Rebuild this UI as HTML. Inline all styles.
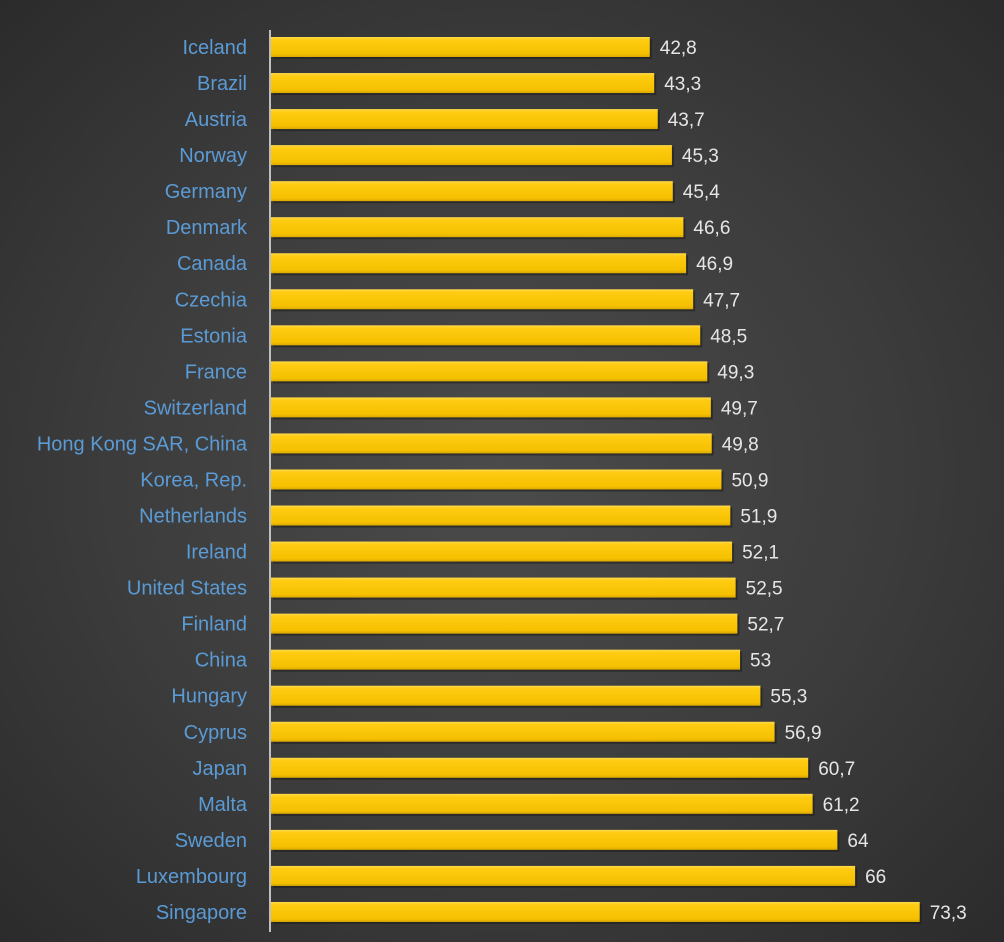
<!DOCTYPE html>
<html><head><meta charset="utf-8"><style>
html,body{margin:0;padding:0;}
body{width:1004px;height:942px;overflow:hidden;background:radial-gradient(ellipse at 50% 50%,#4b4b4b 0%,#3c3c3c 55%,#2b2b2b 100%);}
svg{display:block;font-family:"Liberation Sans",sans-serif;}
</style></head><body>
<svg id="chart" width="1004" height="942" viewBox="0 0 1004 942">
<defs>
<linearGradient id="bg" x1="0" y1="0" x2="0" y2="1">
<stop offset="0" stop-color="#ffd94a"/><stop offset="0.15" stop-color="#ffcc12"/><stop offset="0.85" stop-color="#f5c000"/><stop offset="1" stop-color="#d9a800"/>
</linearGradient>
</defs>
<g id="bars"></g>
<line x1="270" y1="30" x2="270" y2="932" stroke="#bfbfbf" stroke-width="2"/>
</svg>
<script>
const categories=["Iceland","Brazil","Austria","Norway","Germany","Denmark","Canada","Czechia","Estonia","France","Switzerland","Hong Kong SAR, China","Korea, Rep.","Netherlands","Ireland","United States","Finland","China","Hungary","Cyprus","Japan","Malta","Sweden","Luxembourg","Singapore"];
const values=[42.8,43.3,43.7,45.3,45.4,46.6,46.9,47.7,48.5,49.3,49.7,49.8,50.9,51.9,52.1,52.5,52.7,53,55.3,56.9,60.7,61.2,64,66,73.3];
const labels=["42,8","43,3","43,7","45,3","45,4","46,6","46,9","47,7","48,5","49,3","49,7","49,8","50,9","51,9","52,1","52,5","52,7","53","55,3","56,9","60,7","61,2","64","66","73,3"];
const NS="http://www.w3.org/2000/svg";
const x0=271, pxPerUnit=8.85;
function xScale(v){return x0+v*pxPerUnit;}
function yCenter(i){return 47+i*36.04;}
const g=document.getElementById('bars');
categories.forEach((c,i)=>{
  const yc=yCenter(i);
  const sh=document.createElementNS(NS,'rect');
  
  
  sh.setAttribute('x',x0+2);sh.setAttribute('y',yc-8);
  sh.setAttribute('width',xScale(values[i])-x0);sh.setAttribute('height',20);
  sh.setAttribute('fill','#1e1e1e');sh.setAttribute('opacity','0.6');
  g.appendChild(sh);
  const r=document.createElementNS(NS,'rect');
  
  
  r.setAttribute('x',x0);r.setAttribute('y',yc-10);
  r.setAttribute('width',xScale(values[i])-x0);r.setAttribute('height',20);
  r.setAttribute('fill','url(#bg)');
  g.appendChild(r);
  const t=document.createElementNS(NS,'text');
  
  
  t.setAttribute('x',247);t.setAttribute('y',yc+7);
  t.setAttribute('text-anchor','end');t.setAttribute('font-size','20');t.setAttribute('fill','#5b9bd5');
  t.textContent=c;g.appendChild(t);
  const v=document.createElementNS(NS,'text');
  
  
  v.setAttribute('x',xScale(values[i])+10);v.setAttribute('y',yc+7);
  v.setAttribute('font-size','19');v.setAttribute('fill','#e6e6e6');
  v.textContent=labels[i];g.appendChild(v);
});
</script>
</body></html>
